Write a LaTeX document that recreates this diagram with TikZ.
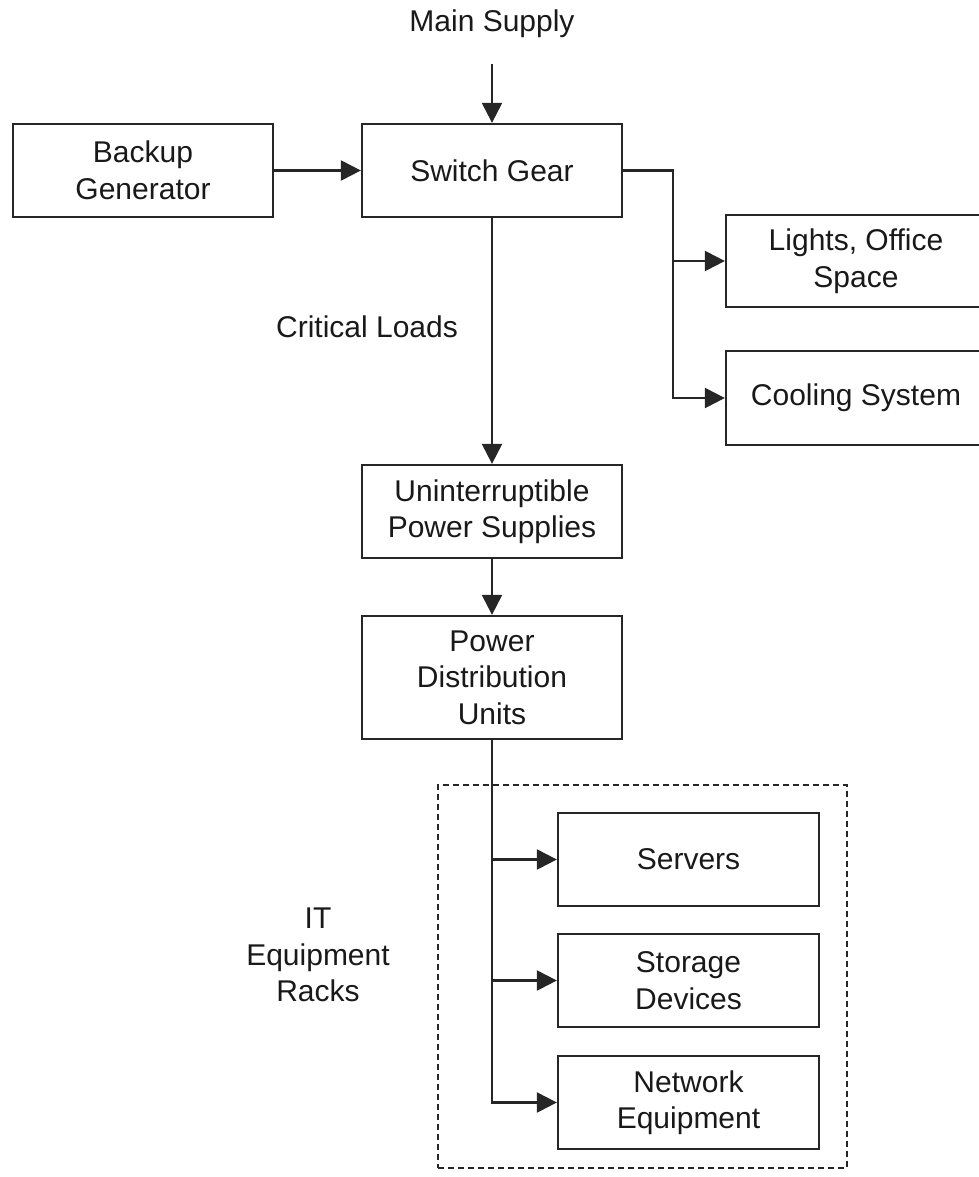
\documentclass[tikz,border=0pt]{standalone}
\usepackage{fontspec}
\setmainfont{Liberation Sans}
\usetikzlibrary{arrows.meta}
\begin{document}
\begin{tikzpicture}[x=1pt,y=-1pt,
  every node/.style={font=\fontsize{30}{36.5}\selectfont, text=black!90},
  blk/.style={draw=black!85, line width=2.3pt, inner sep=0pt, align=center,
              minimum width=260pt, minimum height=93pt},
  lbl/.style={inner sep=0pt, align=center},
  conn/.style={draw=black!85, line width=2.3pt},
  arr/.style={conn, -{Triangle[length=20pt,width=20pt]}},
  rackbox/.style={draw=black!85, line width=2.3pt, dash pattern=on 6pt off 4pt,
                  inner sep=0pt, minimum width=409pt, minimum height=383pt}]
\useasboundingbox (0,0) rectangle (978,1177);
% nodes
\node[lbl] (main) at (492,24) {Main Supply};
\coordinate (mainin) at (492,64);
\node[blk] (bg) at (143,170.5) {Backup\\Generator};
\node[blk] (sg) at (492,170.5) {Switch Gear};
\node[blk, minimum height=92pt] (light) at (856,261) {Lights, Office\\Space};
\node[blk, minimum height=94pt] (cool) at (856,398) {Cooling System};
\node[lbl] (crit) at (367,327) {Critical Loads};
\node[blk] (ups) at (492,511.5) {Uninterruptible\\Power Supplies};
\node[blk, minimum height=123pt] (pdu) at (492,677.5) {Power\\Distribution\\Units};
\node[rackbox] (racks) at (642.5,976.5) {};
\node[lbl] (itlbl) at (318,955) {IT\\Equipment\\Racks};
\node[blk, minimum width=261pt] (srv) at (688.5,859.5) {Servers};
\node[blk, minimum width=261pt] (sto) at (688.5,980.5) {Storage\\Devices};
\node[blk, minimum width=261pt] (net) at (688.5,1102.5) {Network\\Equipment};
% connectors
\draw[arr] (mainin) -- (sg.north);
\draw[arr] (bg.east) -- (sg.west);
\coordinate (sj) at (673,170.5);
\draw[arr] (sg.east) -- (sj) |- (cool.west);
\draw[arr] (sj |- light.west) -- (light.west);
\draw[arr] (sg.south) -- (ups.north);
\draw[arr] (ups.south) -- (pdu.north);
\draw[arr] (pdu.south) |- (net.west);
\draw[arr] (pdu.south |- srv.west) -- (srv.west);
\draw[arr] (pdu.south |- sto.west) -- (sto.west);
\end{tikzpicture}
\end{document}
